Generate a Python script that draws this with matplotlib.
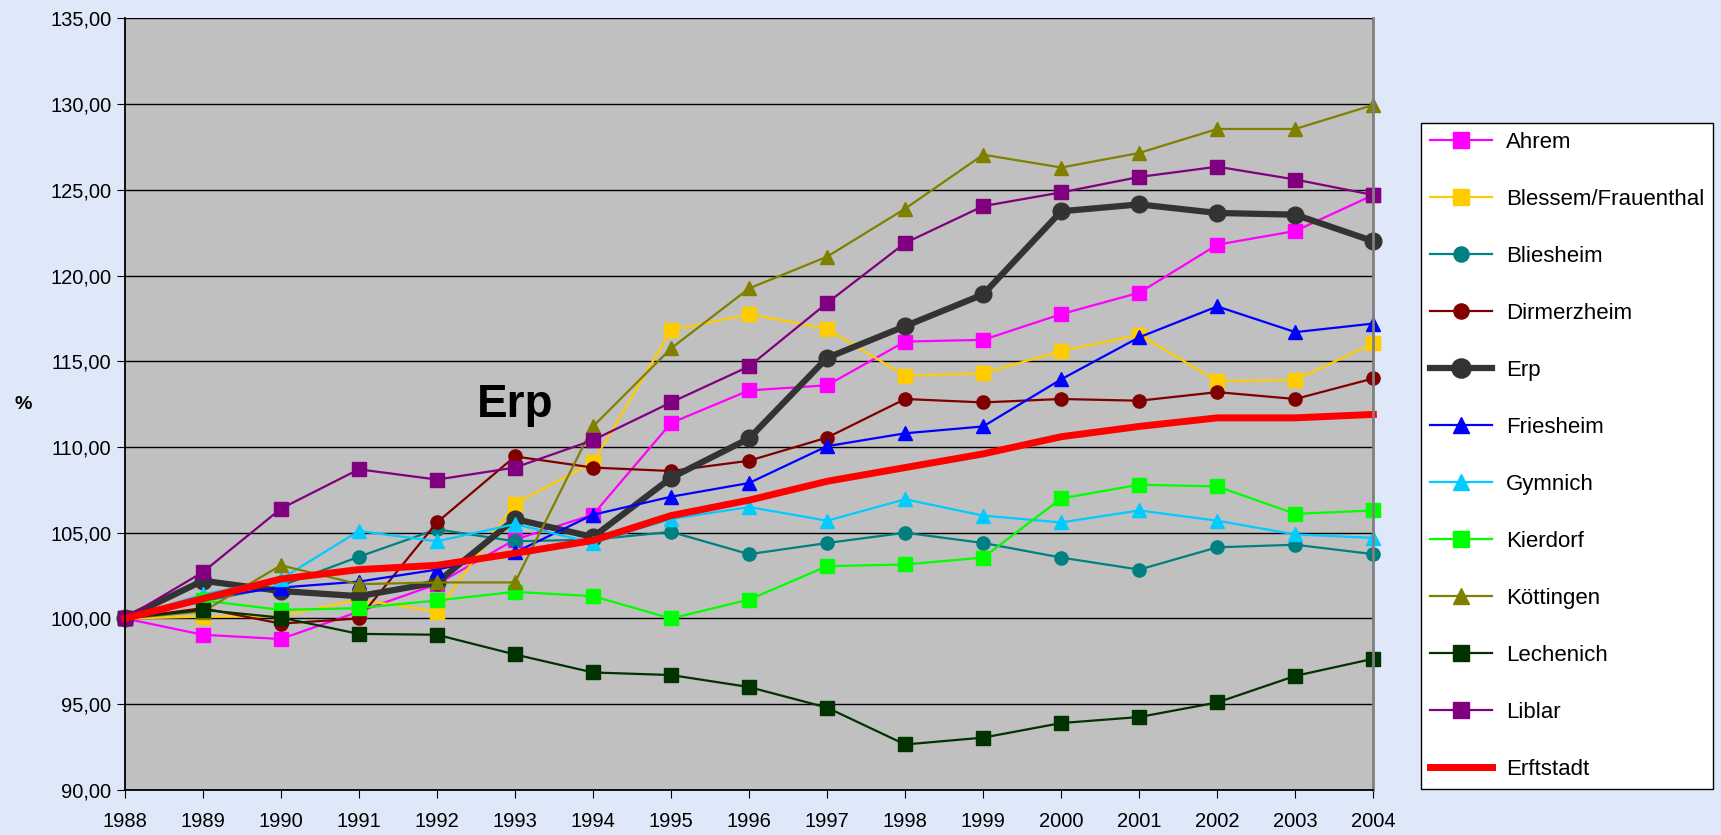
import numpy as np
from matplotlib import pyplot as plt
from matplotlib.ticker import FuncFormatter

plt.rcParams['font.family'] = ['Liberation Sans', 'DejaVu Sans']

jahre = list(range(1988, 2005))

ahrem = [100, 99.05, 98.8, 100.4, 102.0, 104.6, 106.05, 111.4, 113.3, 113.6, 116.15, 116.25, 117.75, 119.0, 121.8, 122.6, 124.7]
blessem = [100, 100.1, 100.15, 101.1, 100.4, 106.7, 109.1, 116.8, 117.75, 116.9, 114.15, 114.3, 115.6, 116.55, 113.85, 113.9, 116.05]
bliesheim = [100, 101.0, 101.9, 103.6, 105.2, 104.5, 104.6, 105.05, 103.75, 104.4, 105.0, 104.4, 103.55, 102.85, 104.15, 104.3, 103.75]
dirmerzheim = [100, 100.6, 99.7, 100.0, 105.6, 109.45, 108.8, 108.6, 109.2, 110.55, 112.8, 112.6, 112.8, 112.7, 113.2, 112.8, 114.0]
erp = [100, 102.2, 101.6, 101.3, 102.1, 105.8, 104.75, 108.2, 110.5, 115.2, 117.05, 118.9, 123.75, 124.15, 123.65, 123.55, 122.0]
friesheim = [100, 101.2, 101.8, 102.15, 102.85, 103.85, 106.05, 107.1, 107.9, 110.05, 110.8, 111.2, 113.95, 116.4, 118.2, 116.7, 117.2]
gymnich = [100, 101.4, 102.3, 105.1, 104.5, 105.5, 104.4, 105.8, 106.5, 105.7, 106.95, 106.0, 105.6, 106.3, 105.7, 104.9, 104.7]
kierdorf = [100, 101.05, 100.5, 100.6, 101.05, 101.55, 101.3, 100.0, 101.1, 103.05, 103.15, 103.55, 107.0, 107.8, 107.7, 106.1, 106.3]
koettingen = [100, 100.4, 103.1, 102.0, 102.1, 102.1, 111.2, 115.75, 119.25, 121.1, 123.9, 127.05, 126.3, 127.15, 128.55, 128.55, 129.95]
lechenich = [100, 100.5, 100.05, 99.1, 99.05, 97.9, 96.85, 96.7, 96.0, 94.8, 92.65, 93.05, 93.9, 94.25, 95.1, 96.65, 97.65]
liblar = [100, 102.7, 106.4, 108.7, 108.1, 108.8, 110.4, 112.6, 114.7, 118.4, 121.9, 124.05, 124.85, 125.75, 126.35, 125.6, 124.7]
erftstadt = [100, 101.15, 102.3, 102.85, 103.1, 103.8, 104.55, 106.0, 106.9, 108.0, 108.8, 109.6, 110.6, 111.2, 111.7, 111.7, 111.9]

fig = plt.figure(figsize=(17.21, 8.35), dpi=100)
fig.patch.set_facecolor('#DFE8F8')
ax = fig.add_axes([0.0725, 0.054, 0.7255, 0.924])
ax.set_facecolor('#C0C0C0')

ax.plot(jahre, ahrem, color='#FF00FF', lw=1.6, marker='s', ms=9.5, label='Ahrem', clip_on=False)
ax.plot(jahre, blessem, color='#FFCC00', lw=1.6, marker='s', ms=9.5, label='Blessem/Frauenthal', clip_on=False)
ax.plot(jahre, bliesheim, color='#008080', lw=1.6, marker='o', ms=9.5, label='Bliesheim', clip_on=False)
ax.plot(jahre, dirmerzheim, color='#800000', lw=1.6, marker='o', ms=9.5, label='Dirmerzheim', clip_on=False)
ax.plot(jahre, erp, color='#333333', lw=4.5, marker='o', ms=12, label='Erp', clip_on=False)
ax.plot(jahre, friesheim, color='#0000FF', lw=1.6, marker='^', ms=10.5, label='Friesheim', clip_on=False)
ax.plot(jahre, gymnich, color='#00CCFF', lw=1.6, marker='^', ms=10.5, label='Gymnich', clip_on=False)
ax.plot(jahre, kierdorf, color='#00FF00', lw=1.6, marker='s', ms=9.5, label='Kierdorf', clip_on=False)
ax.plot(jahre, koettingen, color='#808000', lw=1.6, marker='^', ms=10.5, label='Köttingen', clip_on=False)
ax.plot(jahre, lechenich, color='#003300', lw=1.6, marker='s', ms=9.5, label='Lechenich', clip_on=False)
ax.plot(jahre, liblar, color='#800080', lw=1.6, marker='s', ms=9.5, label='Liblar', clip_on=False)
ax.plot(jahre, erftstadt, color='#FF0000', lw=5, label='Erftstadt', clip_on=False)

ax.set_xlim(1988, 2004)
ax.set_ylim(90, 135)
ax.set_xticks(jahre)
ax.set_yticks(np.arange(90, 136, 5))
ax.yaxis.set_major_formatter(FuncFormatter(lambda v, p: f'{v:.2f}'.replace('.', ',')))
ax.tick_params(labelsize=14.5, length=6, direction='out', color='black')
ax.tick_params(axis='x', pad=10)
ax.yaxis.grid(True, color='black', lw=1)
ax.set_axisbelow(True)
for s in ['left', 'bottom']:
    ax.spines[s].set_color('black')
    ax.spines[s].set_linewidth(1.3)
ax.spines['top'].set_visible(False)
ax.spines['right'].set_color('#808080')
ax.spines['right'].set_linewidth(2)

fig.text(0.0135, 0.516, '%', fontsize=14, fontweight='bold', ha='center', va='center')
ax.text(1993.0, 112.45, 'Erp', fontsize=33, fontweight='bold', ha='center', va='center')

leg = ax.legend(loc='upper left', bbox_to_anchor=(0.8257, 0.8527), bbox_transform=fig.transFigure,
                fontsize=16, frameon=True, fancybox=False, edgecolor='black', facecolor='white',
                framealpha=1, handlelength=2.8, labelspacing=1.62, borderpad=0.4, handletextpad=0.63,
                borderaxespad=0, markerscale=1.15)
leg.get_frame().set_linewidth(1)

plt.savefig('out.png', dpi=100, facecolor=fig.get_facecolor())
